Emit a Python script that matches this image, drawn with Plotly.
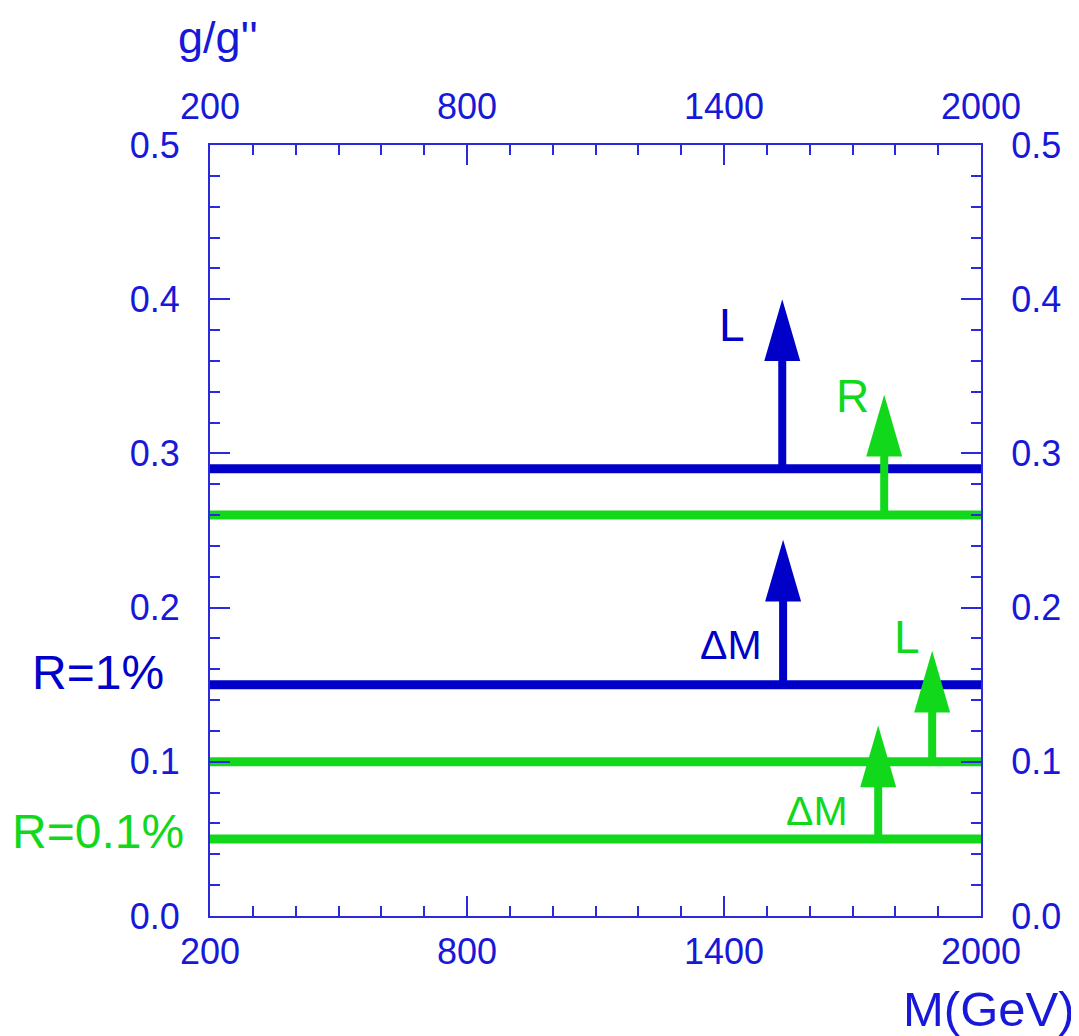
import plotly.graph_objects as go

# ---------------- data ----------------
# horizontal sensitivity levels (g/g'')
line_y = [0.29, 0.26, 0.15, 0.10, 0.05]
line_group = ["R=1%", "R=0.1%", "R=1%", "R=0.1%", "R=0.1%"]
x_start = 200
x_end = 2000

# arrows: x position (GeV), base level, tip level, label
arrow_x = [1536, 1774, 1538, 1886, 1760]
arrow_base = [0.29, 0.26, 0.15, 0.10, 0.05]
arrow_tip = [0.40, 0.338, 0.244, 0.172, 0.1235]
arrow_group = ["R=1%", "R=0.1%", "R=1%", "R=0.1%", "R=0.1%"]
arrow_label = ["L", "R", "ΔM", "L", "ΔM"]
label_x = [1419, 1701, 1416, 1828, 1617]
label_y = [0.383, 0.337, 0.176, 0.181, 0.068]

group_names = ["R=1%", "R=0.1%"]
group_label_y = [0.158, 0.055]

x_ticks = [200, 800, 1400, 2000]
y_ticks = [0.0, 0.1, 0.2, 0.3, 0.4, 0.5]

# ---------------- style ----------------
BLUE = "#0000C8"
GREEN = "#12D81C"
TEXT = "#1818D8"
AXIS = "#2A2ADC"
FONT = "Liberation Sans, Arial, sans-serif"
colors = {"R=1%": BLUE, "R=0.1%": GREEN}
HEAD_HALF_W = 42      # in GeV units
HEAD_LEN = 0.040      # in g/g'' units

fig = go.Figure()

for y, g in zip(line_y, line_group):
    fig.add_trace(go.Scatter(x=[x_start, x_end], y=[y, y], mode="lines",
                             line=dict(color=colors[g], width=9),
                             hoverinfo="skip", showlegend=False))

for ax, yb, yt, g in zip(arrow_x, arrow_base, arrow_tip, arrow_group):
    c = colors[g]
    fig.add_trace(go.Scatter(x=[ax, ax], y=[yb, yt - HEAD_LEN + 0.003], mode="lines",
                             line=dict(color=c, width=8),
                             hoverinfo="skip", showlegend=False))
    fig.add_trace(go.Scatter(x=[ax - HEAD_HALF_W, ax, ax + HEAD_HALF_W, ax - HEAD_HALF_W],
                             y=[yt - HEAD_LEN, yt, yt - HEAD_LEN, yt - HEAD_LEN],
                             mode="lines", fill="toself", fillcolor=c,
                             line=dict(color=c, width=0),
                             hoverinfo="skip", showlegend=False))

# dummy trace for secondary axes
fig.add_trace(go.Scatter(x=[x_start], y=[0], xaxis="x2", yaxis="y2",
                         mode="markers", marker=dict(opacity=0),
                         hoverinfo="skip", showlegend=False))

for lx, ly, t, g in zip(label_x, label_y, arrow_label, arrow_group):
    size = 41 if t.startswith("Δ") else 46
    fig.add_annotation(x=lx, y=ly, text=t, showarrow=False, xref="x", yref="y",
                       font=dict(color=colors[g], size=size, family=FONT),
                       xanchor="center", yanchor="middle")

for g, gy in zip(group_names, group_label_y):
    fig.add_annotation(x=-0.145, y=gy, text=g, showarrow=False, xref="paper", yref="y",
                       font=dict(color=colors[g], size=48, family=FONT),
                       xanchor="center", yanchor="middle")

fig.add_annotation(x=0.0105, y=1.139, text="g/g''", showarrow=False,
                   xref="paper", yref="paper",
                   font=dict(color=TEXT, size=45, family=FONT),
                   xanchor="center", yanchor="middle")
fig.add_annotation(x=1.01, y=-0.12, text="M(GeV)", showarrow=False,
                   xref="paper", yref="paper",
                   font=dict(color=TEXT, size=49, family=FONT),
                   xanchor="center", yanchor="middle")

def xaxis_cfg(standoff):
    return dict(range=[x_start, x_end], tickmode="array", tickvals=x_ticks,
                ticktext=[str(v) for v in x_ticks],
                ticks="inside", ticklen=20, tickwidth=2, tickcolor=AXIS,
                minor=dict(dtick=100, tick0=200, ticks="inside", ticklen=10,
                           tickwidth=2, tickcolor=AXIS, showgrid=False),
                showline=True, linecolor=AXIS, linewidth=2,
                showgrid=False, zeroline=False,
                tickfont=dict(color=TEXT, size=36, family=FONT),
                ticklabelstandoff=standoff)

ycommon = dict(range=[0, 0.5], tickmode="array", tickvals=y_ticks,
               ticktext=[f"{v:.1f}" for v in y_ticks],
               ticks="inside", ticklen=20, tickwidth=2, tickcolor=AXIS,
               minor=dict(dtick=0.02, tick0=0, ticks="inside", ticklen=10,
                          tickwidth=2, tickcolor=AXIS, showgrid=False),
               showline=True, linecolor=AXIS, linewidth=2,
               showgrid=False, zeroline=False,
               tickfont=dict(color=TEXT, size=36, family=FONT),
               ticklabelstandoff=21)

fig.update_layout(
    width=1071, height=1028,
    margin=dict(l=202, r=98, t=137, b=120),
    paper_bgcolor="white", plot_bgcolor="white",
    xaxis=dict(side="bottom", **xaxis_cfg(3)),
    xaxis2=dict(side="top", overlaying="x", matches="x", **xaxis_cfg(10)),
    yaxis=dict(side="left", **ycommon),
    yaxis2=dict(side="right", overlaying="y", matches="y", **ycommon),
    showlegend=False,
)

fig.write_html("out.html")
